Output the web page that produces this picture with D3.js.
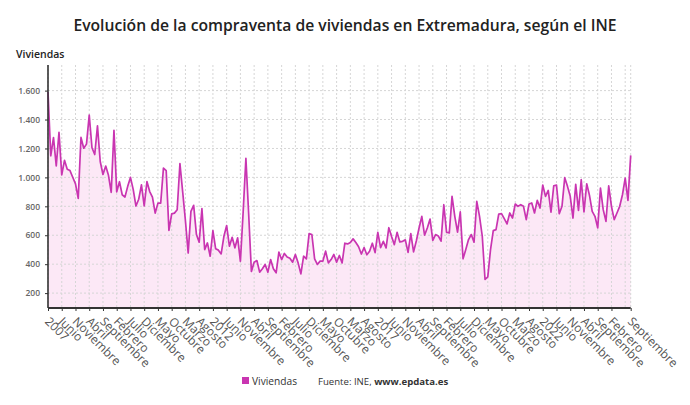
<!DOCTYPE html>
<html>
<head>
<meta charset="utf-8">
<script src="https://cdn.jsdelivr.net/npm/d3@7"></script>
<style>
  html, body { margin: 0; padding: 0; background: #fff; }
  svg { display: block; font-family: "Open Sans", "Noto Sans", sans-serif; }
</style>
</head>
<body>
<svg id="chart" width="690" height="405"></svg>
<script>
// ---- Data ----
const monthNames = ["Enero","Febrero","Marzo","Abril","Mayo","Junio","Julio","Agosto","Septiembre","Octubre","Noviembre","Diciembre"];
const startYear = 2007;
const viviendas = [
  1590,1149,1275,1080,1312,1017,1118,1057,1047,1001,955,855,
  1276,1202,1230,1431,1205,1158,1356,1110,1020,1078,1014,897,
  1326,900,970,880,864,938,1000,917,802,849,948,803,
  971,902,863,753,822,822,1064,1047,633,748,753,776,
  1096,900,700,477,765,807,605,552,784,501,547,455,
  632,506,497,471,593,667,524,586,513,582,420,760,
  1132,750,350,414,425,345,368,398,345,432,368,340,
  483,432,474,450,441,414,467,409,333,455,437,611,
  605,437,398,421,421,490,409,432,467,414,460,409,
  545,540,550,575,550,520,470,515,465,490,545,480,
  620,515,558,512,652,591,535,620,554,558,568,482,
  612,485,560,650,730,600,650,712,565,605,595,559,
  811,621,616,869,731,621,761,437,501,570,605,552,
  834,731,593,294,312,501,632,639,747,749,715,678,
  754,719,816,800,811,800,708,816,823,754,841,788,
  947,869,910,759,942,947,749,800,998,938,869,719,
  952,772,984,761,956,876,765,731,651,926,777,696,
  942,800,708,754,800,880,995,841,1152
];
const categories = viviendas.map((v, i) => {
  const yr = startYear + Math.floor(i / 12);
  return monthNames[i % 12] + " " + yr;
});
const tickIndices = [0,5,10,15,20,25,30,35,40,45,50,55,60,65,70,75,80,85,90,95,100,105,110,115,120,125,130,135,140,145,150,155,160,165,170,175,180,185,190,195,200,205,212];
const tickLabels = ["2007","Junio","Noviembre","Abril","Septiembre","Febrero","Julio","Diciembre","Mayo","Octubre","Marzo","Agosto",
  "2012","Junio","Noviembre","Abril","Septiembre","Febrero","Julio","Diciembre","Mayo","Octubre","Marzo","Agosto",
  "2017","Junio","Noviembre","Abril","Septiembre","Febrero","Julio","Diciembre","Mayo","Octubre","Marzo","Agosto",
  "2022","Junio","Noviembre","Abril","Septiembre","Febrero","Septiembre"];
const yTicks = [200,400,600,800,1000,1200,1400,1600];
const gridIndices = [0,5,10,15,20,25,30,35,40,45,50,55,60,65,70,75,80,85,90,95,100,105,110,115,120,125,130,135,140,145,150,155,160,165,170,175,180,185,190,195,200,205,210,212];

const chartTitle = "Evolución de la compraventa de viviendas en Extremadura, según el INE";
const seriesName = "Viviendas";

(function () {
// ---- Layout ----
const svg = d3.select("#chart");
const pLeft = 48, pRight = 630.7, pTop = 65, pBottom = 308;
const lineColor = "#c935b1";
const fillColor = "#fce8f6";

const x = d3.scalePoint().domain(categories).range([pLeft, pRight]);
const y = d3.scaleLinear().domain([97, 1777]).range([pBottom, pTop]);

// Title
svg.append("text")
  .attr("x", 345).attr("y", 31)
  .attr("text-anchor", "middle")
  .style("font-size", "15.7px").style("font-weight", "600").style("fill", "#222")
  .text(chartTitle);

// Y axis title
svg.append("text")
  .attr("x", 16).attr("y", 58)
  .style("font-size", "10.5px").style("font-weight", "600").style("fill", "#222")
  .text(seriesName);

// Area fill
const area = d3.area()
  .x((d, i) => x(categories[i]))
  .y0(pBottom)
  .y1(d => y(d));
svg.append("path").datum(viviendas)
  .attr("d", area).attr("fill", fillColor);

// Gridlines
const grid = svg.append("g");
grid.selectAll("line.h").data(yTicks).enter().append("line")
  .attr("x1", pLeft).attr("x2", pRight)
  .attr("y1", d => y(d)).attr("y2", d => y(d))
  .attr("stroke", "#d6d6d6").attr("stroke-width", 1).attr("stroke-dasharray", "2,2");
grid.selectAll("line.v").data(gridIndices).enter().append("line")
  .attr("x1", d => x(categories[d])).attr("x2", d => x(categories[d]))
  .attr("y1", pTop).attr("y2", pBottom)
  .attr("stroke", "#d6d6d6").attr("stroke-width", 1).attr("stroke-dasharray", "2,2");

// Line
const line = d3.line()
  .x((d, i) => x(categories[i]))
  .y(d => y(d));
svg.append("path").datum(viviendas)
  .attr("d", line).attr("fill", "none")
  .attr("stroke", lineColor).attr("stroke-width", 1.7).attr("stroke-linejoin", "round");

// Y axis
const fmt = v => d3.format(",")(v).replace(/,/g, ".");
const yAxis = svg.append("g").attr("transform", `translate(${pLeft},0)`)
  .call(d3.axisLeft(y).tickValues(yTicks).tickFormat(fmt).tickSize(3).tickPadding(5));
yAxis.select(".domain").attr("d", `M0,${pTop}V${pBottom}`).attr("stroke", "#333").attr("stroke-width", 1.6);
yAxis.selectAll(".tick line").attr("stroke", "#333");
yAxis.selectAll(".tick text").style("font-size", "8.5px").style("font-weight", "600").style("fill", "#666")
  .style("font-family", "'Open Sans', sans-serif");

// X axis
const xAxis = svg.append("g").attr("transform", `translate(0,${pBottom})`)
  .call(d3.axisBottom(x).tickValues(tickIndices.map(i => categories[i]))
    .tickFormat((d, i) => tickLabels[i]).tickSize(3));
xAxis.select(".domain").attr("d", `M${pLeft},0H${pRight}`).attr("stroke", "#333").attr("stroke-width", 2);
xAxis.selectAll(".tick line").attr("stroke", "#333");
xAxis.selectAll(".tick text")
  .attr("x", 7).attr("y", 13).attr("dy", 0)
  .attr("transform", "rotate(45)")
  .style("text-anchor", "start")
  .style("font-size", "12px").style("fill", "#555")
  .style("font-family", "'Open Sans', sans-serif");

// Legend
const lg = svg.append("g");
lg.append("rect").attr("x", 242).attr("y", 377).attr("width", 7).attr("height", 7).attr("fill", lineColor);
lg.append("text").attr("x", 252).attr("y", 384.5)
  .style("font-size", "10.2px").style("fill", "#333").text(seriesName);
const src = lg.append("text").attr("x", 318).attr("y", 384.5)
  .style("font-size", "9.6px").style("fill", "#333");
src.append("tspan").text("Fuente: INE, ");
src.append("tspan").style("font-weight", "700").text("www.epdata.es");
})();
</script>
</body>
</html>
